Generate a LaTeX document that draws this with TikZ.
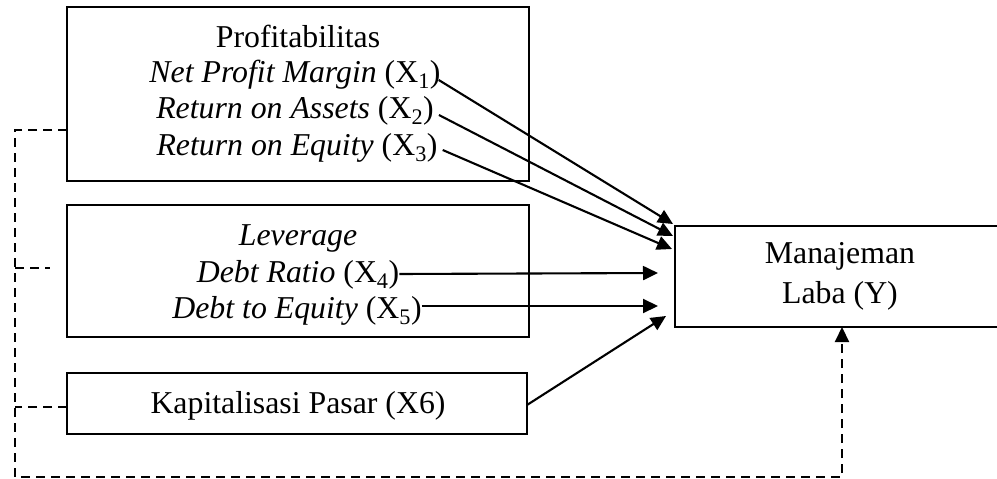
\documentclass[tikz,border=0pt]{standalone}
\usepackage{fontspec}
\setmainfont{Liberation Serif}
\usetikzlibrary{arrows.meta,calc}
\begin{document}
\begin{tikzpicture}[x=1pt,y=-1pt,
  box/.style={draw, line width=2pt, inner sep=0pt, outer sep=0pt, anchor=north west},
  txt/.style={inner sep=0pt, anchor=base, font=\fontsize{31.8}{37}\selectfont},
  arr/.style={line width=2.1pt, -{Triangle[length=15pt,width=14pt]}},
  dsh/.style={line width=2.1pt, dash pattern=on 9pt off 6pt}]
\useasboundingbox (0,0) rectangle (997,479);
% boxes
\node[box, minimum width=462pt, minimum height=174pt] (b1) at (67,7) {};
\node[box, minimum width=462pt, minimum height=132pt] (b2) at (67,205) {};
\node[box, minimum width=460pt, minimum height=61pt] (b3) at (67,373) {};
\node[box, minimum width=330pt, minimum height=101pt] (bY) at (675,226) {};
% texts
\node[txt] (p0) at (298,47) {Profitabilitas};
\node[txt] (p1) at (295,82) {\textit{Net Profit Margin} (X\textsubscript{1})};
\node[txt] (p2) at (295,118) {\textit{Return on Assets} (X\textsubscript{2})};
\node[txt] (p3) at (297,155) {\textit{Return on Equity} (X\textsubscript{3})};
\node[txt] (l0) at (298,245) {\textit{Leverage}};
\node[txt] (l1) at (298,282) {\textit{Debt Ratio} (X\textsubscript{4})};
\node[txt] (l2) at (297,318) {\textit{Debt to Equity} (X\textsubscript{5})};
\node[txt] (k) at (298,413) {Kapitalisasi Pasar (X6)};
\node[txt] (y1) at (840,263) {Manajeman};
\node[txt] (y2) at (840,303) {Laba (Y)};
% arrows
\draw[arr] ([xshift=-2pt,yshift=2pt]p1.base east) -- ([xshift=-2pt,yshift=2pt]bY.north west);
\draw[arr] ([xshift=5pt,yshift=3pt]p2.base east) -- ([xshift=-2pt,yshift=-10pt]bY.north west);
\draw[arr] ([xshift=5pt,yshift=5pt]p3.base east) -- ([xshift=-3pt,yshift=-23pt]bY.north west);
\draw[arr] ([xshift=0pt,yshift=8pt]l1.base east) -- ([xshift=-17pt,yshift=3.5pt]bY.west);
\draw[arr] ([xshift=0pt,yshift=12pt]l2.base east) -- ([xshift=-17pt,yshift=-29.5pt]bY.west);
\draw[arr] ([yshift=-1.5pt]b3.east) -- ([xshift=-9pt,yshift=11pt]bY.south west);
% dashed feedback
\coordinate (L) at (15,477);
\draw[dsh, -{Triangle[length=15pt,width=14pt]}] ([yshift=-36pt]b1.west) -| (L) -| ([xshift=2pt]bY.south);
\draw[dsh] ([yshift=3pt]b2.west -| L) -- ++(35,0);
\draw[dsh] ([yshift=-3.5pt]b3.west) -- ([yshift=-3.5pt]b3.west -| L);
\end{tikzpicture}
\end{document}
